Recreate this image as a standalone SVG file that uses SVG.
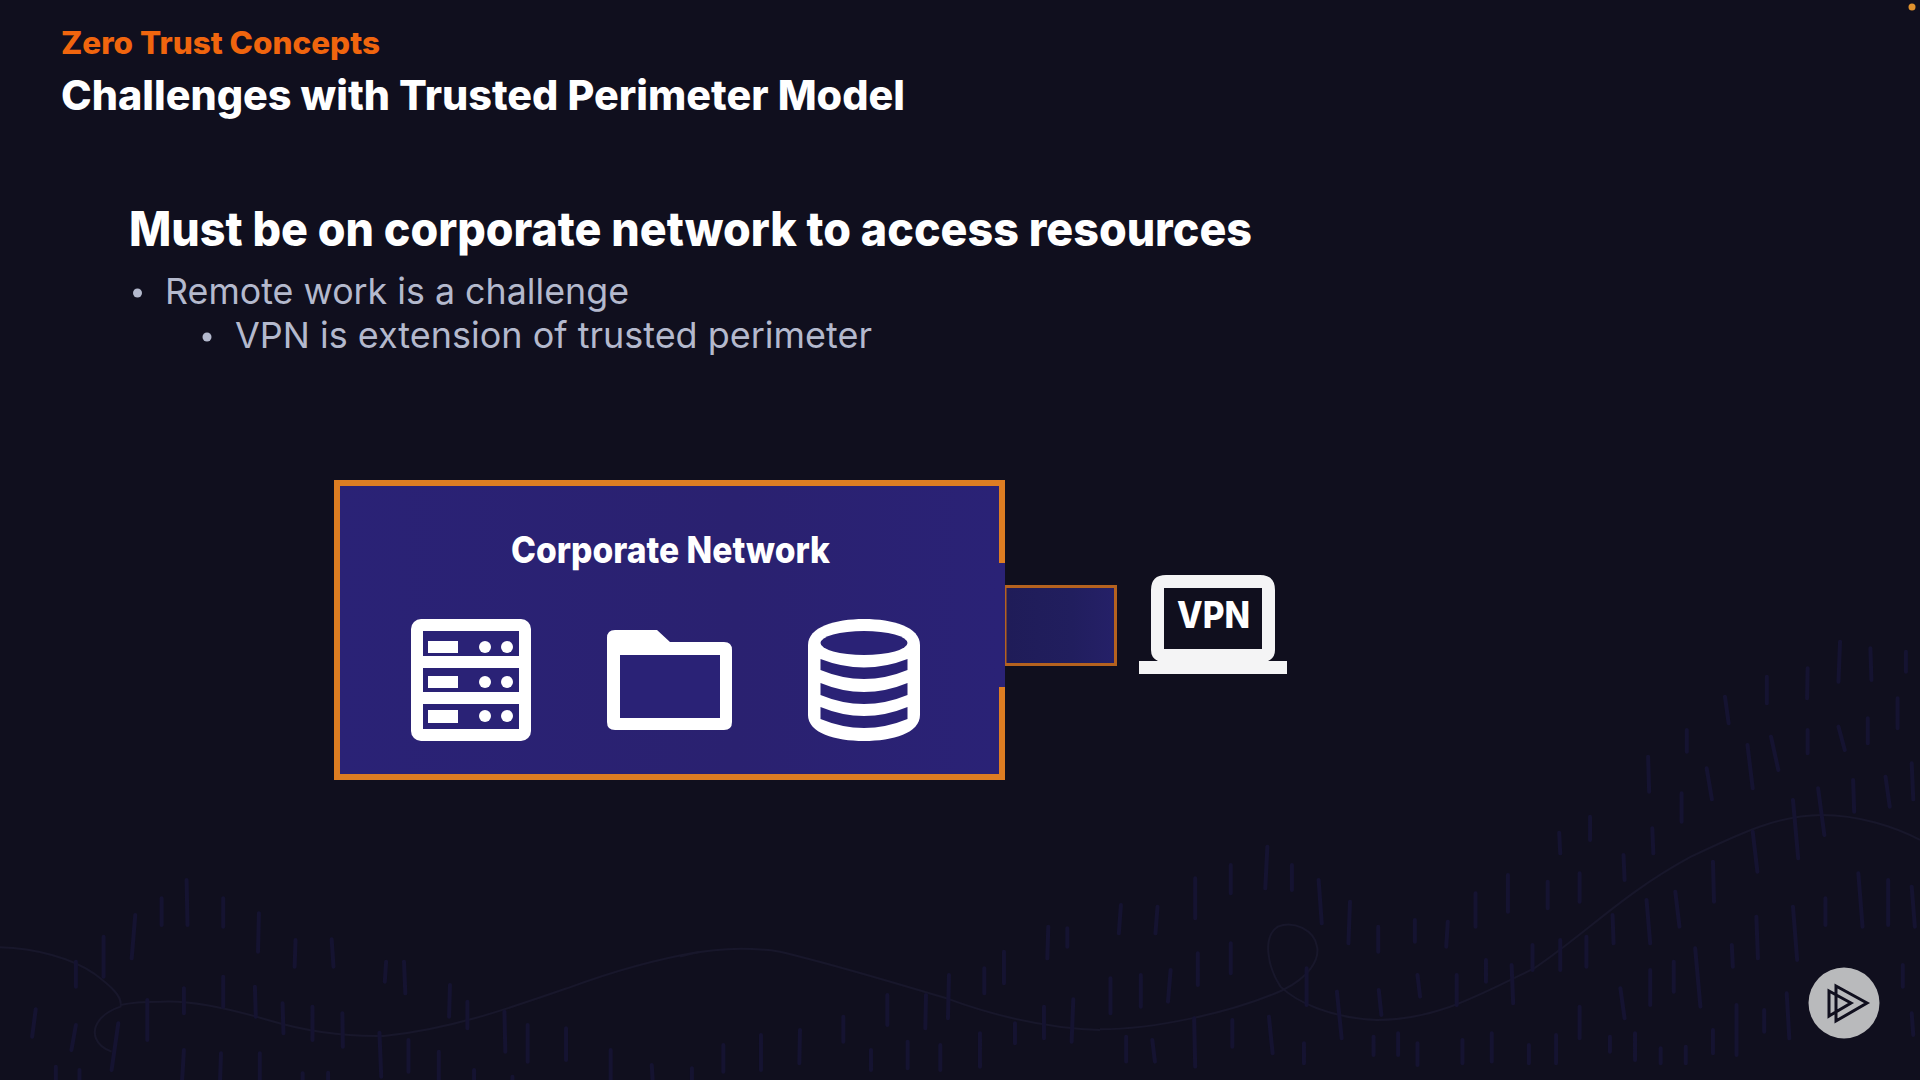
<svg xmlns="http://www.w3.org/2000/svg" width="1920" height="1080" viewBox="0 0 1920 1080">
<defs>
<linearGradient id="boxFill" x1="0" y1="0" x2="1" y2="0"><stop offset="0" stop-color="#2a2276"/><stop offset="0.6" stop-color="#2a2170"/><stop offset="1" stop-color="#2a2276"/></linearGradient>
<linearGradient id="tunnelFill" x1="0" y1="0" x2="1" y2="0"><stop offset="0" stop-color="#1f1c58"/><stop offset="0.6" stop-color="#211e5e"/><stop offset="1" stop-color="#252068"/></linearGradient>
</defs>
<style>
text{font-family:"Inter","Liberation Sans",sans-serif}
.b{font-weight:800;fill:#fff}
.sub{font-weight:400;fill:#b4b9cd;font-size:36px}
.mark{stroke:#151331;stroke-width:4;stroke-linecap:round;fill:none;vector-effect:non-scaling-stroke}
.wave{stroke:#18172b;stroke-width:2;fill:none;vector-effect:non-scaling-stroke}
.slot{fill:#2a2276}
.w{fill:#fff}
</style>
<rect width="1920" height="1080" fill="#100f1e"/>
<g id="background">
<g transform="translate(1100 640) scale(0.523 0.3333)">
<path class="wave" d="M0,1168 C100,1168 250,1120 350,1050 C400,1010 420,960 415,920 C410,870 370,840 340,860 C310,890 320,980 345,1040 C375,1085 440,1135 530,1140 C640,1140 720,1070 830,985 C930,880 1000,760 1130,650 C1230,575 1300,525 1380,525 C1450,525 1520,560 1568,600"/>
<path class="mark" d="M1415 5L1412 125M1473 25L1475 120M1541 35V95M1353 85L1352 175M1275 110V190M1525 175V265M1195 170L1202 250M1122 270V335M1353 270V340M1283 290L1297 390M1412 260L1424 330M1468 235V310M1048 350L1050 455M1238 315L1248 445M1160 385L1170 478M1552 370L1555 478M1112 460V545M1440 420L1442 515M1502 410L1510 500M1373 445L1385 585M1325 480L1335 655M937 530V600M878 578L880 640M1056 565L1058 640M1248 575L1257 695M1001 645L1003 720M1172 665L1174 785M1450 700L1458 860M1507 720V855M1552 740L1558 860M320 620L316 745M250 675V760M367 675V750M182 715V835M418 720L424 850M780 705V815M856 725V805M917 700V785M718 760V860M40 795L36 880M110 800L106 880M478 785L475 910M532 860V935M602 840V905M665 845L662 920M1045 780L1052 910M1100 755L1108 860M980 825L982 910M1325 800L1333 960M1387 775V855M1255 830L1258 955M250 910V1000M187 940V1035M135 990L130 1085M78 1005V1100M20 1015V1120M880 900V990M930 890V980M827 915V990M738 960V1025M787 975L790 1090M1138 925L1148 1100M1208 915L1210 980M1097 965V1055M1052 990V1095M995 1045L1003 1135M682 1005V1095M607 1005L612 1070M533 1050L538 1125M453 1055L462 1195M395 985V1095M1535 975V1040M1313 1060L1318 1195M1217 1095V1245M1270 1110V1175M1172 1170V1240M917 1100V1195M1552 1120L1555 1185M323 1130L330 1240M253 1140V1220M180 1135L182 1280M50 1190V1265M100 1200L105 1265M390 1210V1270M523 1190V1245M570 1180V1245M607 1210V1275M693 1200V1270M749 1180V1265M820 1215V1270M872 1185V1270M975 1190V1235M1023 1180V1260M1072 1225V1270M1120 1220V1270"/>
</g>
<g transform="translate(680 840) scale(0.3333 0.3333)">
<path class="wave" d="M0,350 C80,325 200,320 300,335 C450,370 650,430 800,475 C950,530 1100,565 1260,570"/>
<path class="mark" d="M1105 260L1102 355M1162 265V320M972 335V430M913 385V460M807 405L804 535M622 465V555M738 465L736 565M1180 478L1175 605M1092 500V595M490 530V605M1005 550V610M360 570L358 670M243 585V690M900 580V680M130 615V695M683 605V685M781 615V690M573 630V690"/>
</g>
<g transform="translate(0 850) scale(0.4464 0.3333)">
<path class="wave" d="M0,292 C80,295 160,325 210,370 C250,410 275,440 270,470 C225,490 205,530 215,565 C222,590 240,600 250,605"/>
<path class="wave" d="M270,465 C300,455 330,455 360,455 C420,450 500,470 600,510 C700,550 780,560 860,558 C1000,540 1130,480 1270,415 C1380,360 1480,325 1568,305"/>
<path class="mark" d="M418 90L420 225M362 145V225M500 145V230M580 190L578 305M303 195L295 325M232 260V380M662 270L660 350M743 268L747 350M170 335V410M865 335L862 395M905 335L908 430M500 380V470M412 415V490M571 410L573 500M1008 405L1006 500M633 460L635 550M1047 455V535M700 470V570M767 490L768 590M330 450V570M80 478L72 560M170 525L160 600M265 520L250 660M1130 485L1132 605M1182 525V635M1268 535V630M850 548L854 680M915 570V665M983 605V690M412 600L408 690M495 610L493 690M582 610V690M125 650V690M178 660V690M1368 600V690M1460 645L1462 690M1550 655V690M1062 660V690M678 670V690M735 668V690M1148 680V690"/>
</g>
</g>
<g id="heading">
<text x="61" y="54" font-size="31" font-weight="800" fill="#f0650e" textLength="319" lengthAdjust="spacingAndGlyphs">Zero Trust Concepts</text>
<text class="b" x="61" y="110" font-size="41" textLength="844" lengthAdjust="spacingAndGlyphs">Challenges with Trusted Perimeter Model</text>
<text class="b" x="129" y="246" font-size="48" textLength="1123" lengthAdjust="spacingAndGlyphs">Must be on corporate network to access resources</text>
<circle cx="137.500" cy="293" r="4.500" fill="#b4b9cd"/>
<text class="sub" x="165" y="304" textLength="464" lengthAdjust="spacingAndGlyphs">Remote work is a challenge</text>
<circle cx="207" cy="337" r="4.500" fill="#b4b9cd"/>
<text class="sub" x="235" y="348" textLength="637" lengthAdjust="spacingAndGlyphs">VPN is extension of trusted perimeter</text>
</g>
<g id="connectors">
<rect x="1005" y="586.500" width="110.500" height="78" fill="url(#tunnelFill)" stroke="#b5621f" stroke-width="3"/>
</g>
<g id="corporate-network">
<rect x="337" y="483" width="665" height="294" fill="url(#boxFill)" stroke="#dd7d22" stroke-width="6"/>
<rect x="999" y="563" width="6" height="124" fill="#2a2276"/>
<text class="b" x="511" y="563" font-size="37" textLength="319" lengthAdjust="spacingAndGlyphs">Corporate Network</text>
</g>
<g id="server-icon">
<rect class="w" x="411" y="619" width="120" height="122" rx="10"/>
<rect class="slot" x="423" y="631" width="96" height="25"/>
<rect class="slot" x="423" y="668" width="96" height="24"/>
<rect class="slot" x="423" y="704" width="96" height="25"/>
<rect class="w" x="428" y="641" width="30" height="12"/>
<rect class="w" x="428" y="676" width="30" height="12"/>
<rect class="w" x="428" y="710" width="30" height="13"/>
<ellipse class="w" cx="485" cy="647" rx="6" ry="6"/><ellipse class="w" cx="507" cy="647" rx="6" ry="6"/>
<ellipse class="w" cx="485" cy="682" rx="6" ry="6"/><ellipse class="w" cx="507" cy="682" rx="6" ry="6"/>
<ellipse class="w" cx="485" cy="716" rx="6" ry="6"/><ellipse class="w" cx="507" cy="716" rx="6" ry="6"/>
</g>
<g id="folder-icon">
<path class="w" d="M615 630H657L670 642H724Q732 642 732 650V722Q732 730 724 730H615Q607 730 607 722V638Q607 630 615 630Z"/>
<rect class="slot" x="620" y="655" width="100" height="63"/>
</g>
<g id="database-icon">
<path class="w" d="M808 645C808 627 835 619 864 619C893 619 920 627 920 645V715C920 733 893 741 864 741C835 741 808 733 808 715Z"/>
<ellipse class="slot" cx="864" cy="643" rx="43.500" ry="12"/>
<path class="slot" d="M820.500 659Q864 676 907.500 659V670Q864 688 820.500 670Z"/>
<path class="slot" d="M820.500 683Q864 701 907.500 683V695Q864 713 820.500 695Z"/>
<path class="slot" d="M820.500 707Q864 725 907.500 707V719Q864 737 820.500 719Z"/>
</g>
<g id="vpn-laptop">
<path d="M1166 575H1260Q1275 575 1275 590V650Q1275 658 1268 661H1287V674H1139V661H1158Q1151 658 1151 650V590Q1151 575 1166 575Z" fill="#f4f4f5"/>
<rect x="1164" y="588" width="98" height="61" fill="#100f1e"/>
<text class="b" x="1177" y="628" font-size="37" textLength="73" lengthAdjust="spacingAndGlyphs">VPN</text>
</g>
<g id="play-badge">
<circle cx="1844" cy="1003" r="35.500" fill="#b9babc"/>
<path d="M1836 986L1867 1003L1836 1021ZM1829 991L1851 1003L1829 1016Z" fill="none" stroke="#100f1e" stroke-width="3"/>
</g>
<circle id="corner-dot" cx="1912" cy="7" r="3.500" fill="#e0922e"/>
</svg>
